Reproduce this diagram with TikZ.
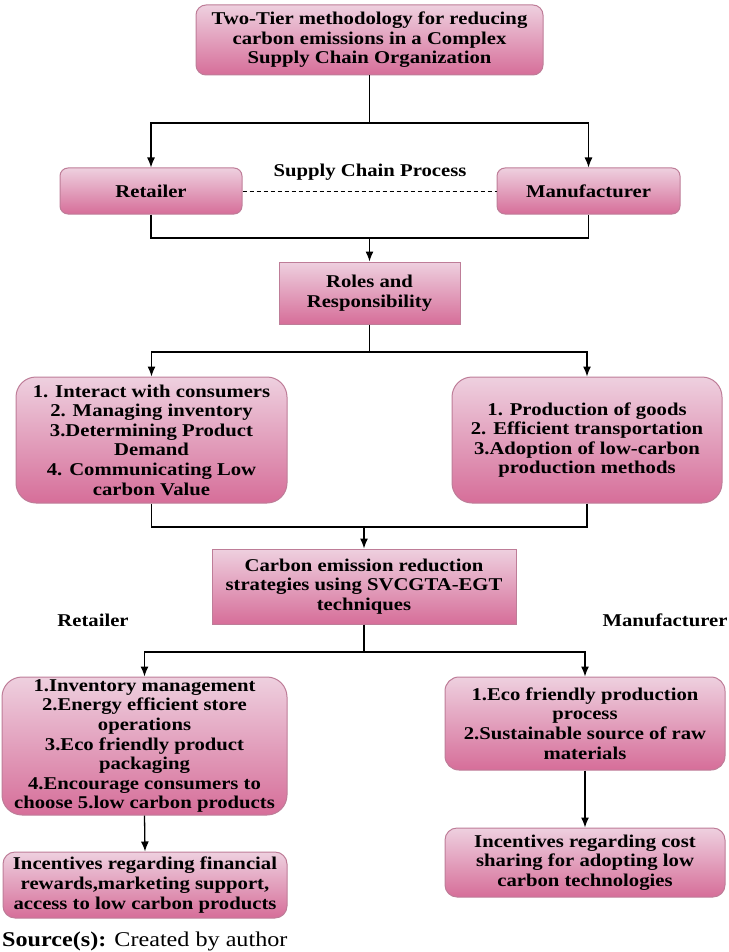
\documentclass[tikz,border=0pt]{standalone}
\usepackage{fontspec}
\setmainfont{Liberation Serif}[FakeStretch=1.15]
\usetikzlibrary{arrows.meta}
\definecolor{ptop}{RGB}{238,208,223}
\definecolor{pbot}{RGB}{214,110,153}
\definecolor{pedge}{RGB}{190,125,152}
\tikzset{
 pbox/.style={draw=pedge, line width=1pt, top color=ptop, bottom color=pbot, align=center,
   font=\fontsize{18}{19.6}\selectfont\bfseries, inner sep=0pt},
 rbox/.style={pbox, rounded corners=10pt},
 bigbox/.style={pbox, rounded corners=20pt},
 lbl/.style={font=\fontsize{18}{19.6}\selectfont\bfseries, inner sep=0pt},
 conn/.style={line width=1.3pt, black},
 arr/.style={conn, -{Latex[length=10pt,width=8pt]}},
}
\begin{document}
\begin{tikzpicture}[x=1pt,y=-1pt]
\useasboundingbox (0,0) rectangle (728,952);
\node[rbox, minimum width=347, minimum height=70] (top) at (369.5,40)
 {Two-Tier methodology for reducing\\carbon emissions in a Complex\\Supply Chain Organization};
\node[rbox, rounded corners=8pt, minimum width=182, minimum height=46] (ret) at (151,191) {Retailer};
\node[rbox, rounded corners=8pt, minimum width=183, minimum height=46] (man) at (588.5,191) {Manufacturer};
\node[lbl] (scp) at (370,172) {Supply Chain Process};
\node[pbox, minimum width=181, minimum height=62] (roles) at (369.5,293) {Roles and\\Responsibility};
\node[bigbox, minimum width=271, minimum height=126] (rr) at (151.5,440)
 {1. Interact with consumers\\2. Managing inventory\\3.Determining Product\\Demand\\4. Communicating Low\\carbon Value};
\node[bigbox, minimum width=270, minimum height=126] (mr) at (587,440)
 {1. Production of goods\\2. Efficient transportation\\3.Adoption of low-carbon\\production methods};
\node[pbox, minimum width=304, minimum height=75] (cer) at (364,586.5)
 {Carbon emission reduction\\strategies using SVCGTA-EGT\\techniques};
\node[lbl] (rl) at (93,620) {Retailer};
\node[lbl] (ml) at (665,620) {Manufacturer};
\node[bigbox, minimum width=285, minimum height=138] (rs) at (144.5,746)
 {1.Inventory management\\2.Energy efficient store\\operations\\3.Eco friendly product\\packaging\\4.Encourage consumers to\\choose 5.low carbon products};
\node[rbox, rounded corners=14pt, minimum width=280, minimum height=93] (ms) at (585,723.5)
 {1.Eco friendly production\\process\\2.Sustainable source of raw\\materials};
\node[rbox, rounded corners=12pt, minimum width=284, minimum height=66] (ri) at (145,885)
 {Incentives regarding financial\\rewards,marketing support,\\access to low carbon products};
\node[rbox, rounded corners=12pt, minimum width=280, minimum height=69] (mi) at (585,862.5)
 {Incentives regarding cost\\sharing for adopting low\\carbon technologies};
\node[anchor=base west, inner sep=0pt, font=\fontsize{21}{24}\selectfont] (src) at (2,946)
 {\textbf{Source(s):} Created by author};
% connectors
\coordinate (b1) at (369.5,123);
\draw[conn] (top.south) -- (b1);
\draw[arr] (b1) -| (ret.north);
\draw[arr] (b1) -| (man.north);
\draw[conn, line width=1pt, dash pattern=on 4pt off 3pt] (ret.east) -- (man.west);
\coordinate (b2) at (369.5,238);
\draw[conn] (ret.south) |- (b2);
\draw[conn] (man.south) |- (b2);
\draw[arr] (b2) -- (roles.north);
\coordinate (b3) at (369.5,352);
\draw[conn] (roles.south) -- (b3);
\draw[arr] (b3) -| (rr.north);
\draw[arr] (b3) -| (mr.north);
\coordinate (b4) at (364,527);
\draw[conn] (rr.south) |- (b4);
\draw[conn] (mr.south) |- (b4);
\draw[arr] (b4) -- (cer.north);
\coordinate (b5) at (364,652);
\draw[conn] (cer.south) -- (b5);
\draw[arr] (b5) -| (rs.north);
\draw[arr] (b5) -| (ms.north);
\draw[arr] (rs.south) -- (ri.north);
\draw[arr] (ms.south) -- (mi.north);
\end{tikzpicture}
\end{document}
